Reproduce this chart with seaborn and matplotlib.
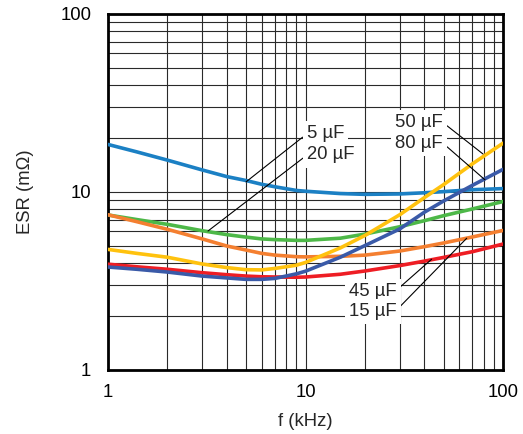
import matplotlib
matplotlib.use("Agg")
import matplotlib.pyplot as plt
import matplotlib.ticker as mticker
import seaborn as sns
import pandas as pd

# ---- data ----
freq_khz = [1, 1.4, 2, 3, 4, 5, 6, 7, 9, 10, 15, 20, 30, 40, 50, 70, 100]

esr_5uF = [18.5, 16.8, 15.1, 13.3, 12.2, 11.6, 11.05, 10.7, 10.2, 10.1, 9.8, 9.7, 9.75, 9.9, 10.05, 10.3, 10.45]
esr_20uF = [7.43, 7.0, 6.58, 6.06, 5.76, 5.58, 5.45, 5.4, 5.35, 5.35, 5.5, 5.8, 6.38, 6.9, 7.36, 8.03, 8.84]
esr_15uF = [7.45, 6.81, 6.17, 5.45, 4.97, 4.72, 4.52, 4.42, 4.33, 4.32, 4.35, 4.42, 4.66, 4.93, 5.17, 5.59, 6.08]
esr_45uF = [3.93, 3.8, 3.68, 3.52, 3.43, 3.37, 3.34, 3.33, 3.32, 3.33, 3.45, 3.6, 3.86, 4.09, 4.29, 4.62, 5.1]
esr_80uF = [3.79, 3.68, 3.55, 3.37, 3.29, 3.23, 3.23, 3.27, 3.47, 3.59, 4.3, 5.0, 6.2, 7.7, 8.9, 10.9, 13.4]
esr_50uF = [4.76, 4.52, 4.30, 3.94, 3.76, 3.66, 3.65, 3.72, 3.88, 4.02, 4.85, 5.7, 7.45, 9.3, 11.0, 14.4, 18.8]

series_names = ["5 µF", "20 µF", "15 µF", "45 µF", "80 µF", "50 µF"]
series_values = [esr_5uF, esr_20uF, esr_15uF, esr_45uF, esr_80uF, esr_50uF]
series_colors = ["#1b80c4", "#4db848", "#f47f30", "#ee1d24", "#3a5aa8", "#ffc20e"]

tick_values = [1, 10, 100]
tick_labels = ["1", "10", "100"]

# label annotation points on the curves (data) and text anchors (axes fraction)
label_texts = ["5 µF", "20 µF", "50 µF", "80 µF", "45 µF", "15 µF"]
label_xy = [(5.0, 11.4), (3.21, 6.04), (79.2, 16.35), (81.1, 11.7), (43.5, 4.19), (65.5, 5.5)]
label_txt_pos = [(0.503, 0.663), (0.504, 0.604), (0.848, 0.695), (0.848, 0.637), (0.731, 0.220), (0.731, 0.164)]
label_ha = ["left", "left", "right", "right", "right", "right"]
label_rel = [(0, 0.5), (0, 0.5), (1, 0.5), (1, 0.5), (1, 0.6), (1, 0.6)]

rows = []
for name, vals in zip(series_names, series_values):
    for f, v in zip(freq_khz, vals):
        rows.append({"f": f, "esr": v, "cap": name})
df = pd.DataFrame(rows)

sns.set_style("white")
plt.rcParams["font.family"] = ["Liberation Sans", "DejaVu Sans"]
FS = 13.3

fig = plt.figure(figsize=(5.23, 4.34), dpi=100)
ax = fig.add_axes([108 / 523, 1 - 370 / 434, 395 / 523, 356 / 434])

sns.lineplot(data=df, x="f", y="esr", hue="cap", hue_order=series_names,
             palette=series_colors, linewidth=2.6, estimator=None, sort=False,
             legend=False, ax=ax, zorder=3)

ax.set_xscale("log")
ax.set_yscale("log")
ax.set_xlim(1, 100)
ax.set_ylim(1, 100)

ax.xaxis.set_major_locator(mticker.FixedLocator(tick_values))
ax.xaxis.set_major_formatter(mticker.FixedFormatter(tick_labels))
ax.yaxis.set_major_locator(mticker.FixedLocator(tick_values))
ax.yaxis.set_major_formatter(mticker.FixedFormatter(tick_labels))
ax.xaxis.set_minor_locator(mticker.LogLocator(base=10, subs=range(2, 10)))
ax.yaxis.set_minor_locator(mticker.LogLocator(base=10, subs=range(2, 10)))
ax.xaxis.set_minor_formatter(mticker.NullFormatter())
ax.yaxis.set_minor_formatter(mticker.NullFormatter())

ax.tick_params(which="both", length=0, labelsize=FS, colors="black")
ax.tick_params(axis="y", pad=12)
ax.tick_params(axis="x", pad=10)

ax.grid(which="both", color="#2a2a2a", linewidth=0.8)
ax.set_axisbelow(True)
for s in ax.spines.values():
    s.set_color("black")
    s.set_linewidth(2.0)

ax.set_xlabel("f (kHz)", fontsize=FS)
ax.set_ylabel("ESR (mΩ)", fontsize=FS)
ax.xaxis.set_label_coords(0.5, -0.12)
ax.yaxis.set_label_coords(-0.187, 0.5)

for txt, xy, pos, ha, rel in zip(label_texts, label_xy, label_txt_pos, label_ha, label_rel):
    ax.annotate(txt, xy=xy, xycoords="data", xytext=pos, textcoords="axes fraction",
                ha=ha, va="center", fontsize=FS, zorder=5,
                bbox=dict(boxstyle="square,pad=0.22", fc="white", ec="none"),
                arrowprops=dict(arrowstyle="-", color="black", lw=0.8,
                                shrinkA=0, shrinkB=0, relpos=rel))

fig.savefig("out.png", dpi=100)
